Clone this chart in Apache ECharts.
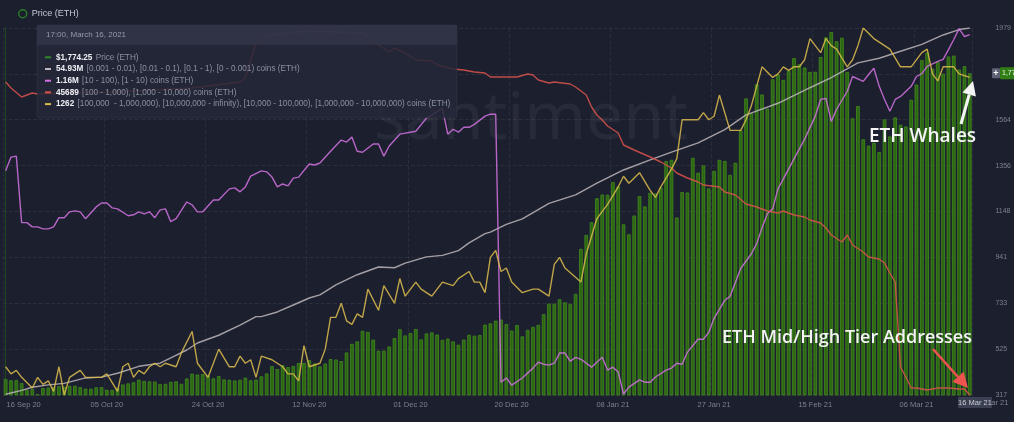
<!DOCTYPE html>
<html lang="en">
<head>
<meta charset="UTF-8">
<title>ETH holders vs price</title>
<script src="https://cdn.jsdelivr.net/npm/echarts@6/dist/echarts.min.js"></script>
<style>
  html, body { margin: 0; padding: 0; background: #1c1f2e; }
  #main { width: 1014px; height: 422px; }
</style>
</head>
<body>
<div id="main"></div>
<script>
// daily ETH price (USD), one bar per day from 16 Sep 2020 to 16 Mar 2021
var priceUsd = [
  389, 384, 385, 371, 341, 344, 321, 349, 351, 354, 357, 354, 359, 359,
  353, 346, 346, 352, 353, 341, 341, 350, 365, 370, 375, 387, 381, 379, 378, 366,
  368, 377, 379, 368, 392, 414, 410, 412, 406, 393, 403, 388, 386, 383, 386,
  396, 384, 387, 402, 415, 448, 435, 453, 444, 449, 462, 463, 475, 460, 447,
  460, 480, 478, 471, 510, 549, 560, 608, 603, 568, 518, 518, 537, 575, 615,
  587, 598, 616, 569, 596, 601, 591, 567, 573, 560, 545, 568, 590, 586, 589,
  636, 642, 654, 659, 638, 609, 634, 583, 612, 626, 635, 683, 731, 731, 751, 737,
  730, 775, 979, 1042, 1100, 1208, 1225, 1224, 1281, 1262, 1090, 1045, 1130, 1218, 1171,
  1233, 1230, 1257, 1377, 1382, 1121, 1236, 1234, 1391, 1324, 1357, 1253, 1332, 1382, 1377, 1314,
  1369, 1515, 1660, 1593, 1724, 1678, 1614, 1747, 1768, 1744, 1785, 1843, 1815, 1800,
  1780, 1781, 1848, 1937, 1960, 1919, 1935, 1780, 1570, 1626, 1475, 1446, 1459, 1417,
  1565, 1488, 1574, 1541, 1533, 1654, 1723, 1834, 1868, 1795, 1826, 1772, 1850, 1854, 1791, 1806,
  1774.25
];

// holder counts as [day index, value]
// [0 - 1) coins, millions
var smallHolders = [
  [0, 50.21], [3, 50.26], [5, 50.30], [8, 50.33], [11, 50.35], [15, 50.42], [18, 50.43], [21, 50.48],
  [25, 50.57], [29, 50.61], [31, 50.68], [34, 50.78], [36, 50.87], [40, 50.97], [44, 51.10], [47, 51.21],
  [48, 51.21], [51, 51.27], [54, 51.36], [57, 51.45], [59, 51.49], [62, 51.62], [66, 51.75], [70, 51.85],
  [73, 51.84], [75, 51.90], [79, 51.98], [82, 52.00], [85, 52.06], [87, 52.16], [90, 52.28], [91, 52.30],
  [94, 52.40], [97, 52.47], [102, 52.67], [107, 52.78], [111, 52.93], [116, 53.10], [121, 53.23], [125, 53.33],
  [130, 53.45], [135, 53.62], [139, 53.81], [145, 53.96], [151, 54.16], [155, 54.29], [160, 54.48], [164, 54.54],
  [168, 54.63], [172, 54.72], [176, 54.84], [179, 54.91], [181, 54.93]
];
// [1 - 100) coins, millions
var midHolders = [
  [0, 1.1184], [1, 1.1226], [2, 1.1229], [3, 1.1026], [4, 1.1026], [5, 1.1013], [6, 1.1013], [7, 1.1007],
  [8, 1.1007], [9, 1.1013], [10, 1.1041], [11, 1.1041], [12, 1.1059], [13, 1.1062], [14, 1.1059], [15, 1.1038],
  [17, 1.1074], [18, 1.1086], [19, 1.1086], [20, 1.1071], [21, 1.1068], [23, 1.1047], [24, 1.1050], [25, 1.1059],
  [26, 1.1053], [27, 1.1059], [28, 1.1041], [29, 1.1065], [30, 1.1068], [31, 1.1029], [32, 1.1038], [34, 1.1089],
  [35, 1.1080], [36, 1.1059], [37, 1.1059], [39, 1.1095], [40, 1.1095], [42, 1.1129], [43, 1.1132], [44, 1.1120],
  [45, 1.1135], [46, 1.1168], [48, 1.1184], [49, 1.1181], [50, 1.1165], [51, 1.1135], [52, 1.1144], [53, 1.1138],
  [54, 1.1162], [55, 1.1165], [57, 1.1205], [58, 1.1202], [59, 1.1208], [61, 1.1244], [63, 1.1278], [64, 1.1272],
  [65, 1.1287], [66, 1.1244], [67, 1.1241], [69, 1.1266], [70, 1.1266], [71, 1.1229], [72, 1.1260], [74, 1.1296],
  [77, 1.1305], [79, 1.1345], [80, 1.1354], [82, 1.1375], [83, 1.1296], [84, 1.1311], [85, 1.1302], [86, 1.1317],
  [87, 1.1317], [88, 1.1326], [90, 1.1351], [91, 1.1357], [92, 1.1357], [93, 1.0539], [94, 1.0552], [95, 1.0530],
  [97, 1.0552], [99, 1.0582], [100, 1.0600], [101, 1.0594], [102, 1.0591], [103, 1.0597], [104, 1.0628], [105, 1.0628],
  [106, 1.0603], [107, 1.0615], [108, 1.0609], [110, 1.0585], [112, 1.0615], [113, 1.0576], [114, 1.0585], [115, 1.0570],
  [116, 1.0503], [117, 1.0524], [119, 1.0546], [120, 1.0539], [121, 1.0539], [122, 1.0555], [124, 1.0576], [125, 1.0582],
  [126, 1.0597], [127, 1.0594], [128, 1.0631], [130, 1.0670], [131, 1.0670], [132, 1.0691], [133, 1.0734], [135, 1.0789],
  [136, 1.0801], [137, 1.0843], [138, 1.0886], [140, 1.0931], [141, 1.0962], [142, 1.1010], [143, 1.1053], [144, 1.1068],
  [145, 1.1129], [147, 1.1190], [150, 1.1281], [152, 1.1351], [153, 1.1402], [154, 1.1405], [155, 1.1335], [156, 1.1372],
  [158, 1.1427], [159, 1.1472], [161, 1.1457], [162, 1.1478], [163, 1.1497], [164, 1.1442], [165, 1.1402], [166, 1.1366],
  [167, 1.1402], [168, 1.1411], [170, 1.1442], [171, 1.1472], [172, 1.1481], [173, 1.1503], [175, 1.1518], [176, 1.1524],
  [177, 1.1554], [178, 1.1585], [179, 1.1618], [180, 1.1594], [181, 1.1600]
];
// [100 - 10,000) coins
var tierHolders = [
  [0, 48193], [1, 48145], [3, 48073], [4, 48089], [5, 48105], [6, 48097], [20, 48113], [35, 48145],
  [44, 48193], [45, 48225], [47, 48505], [49, 48569], [55, 48593], [61, 48593], [67, 48585], [70, 48489],
  [72, 48433], [73, 48465], [75, 48425], [77, 48369], [80, 48361], [81, 48329], [84, 48297], [86, 48289],
  [88, 48273], [90, 48265], [91, 48233], [95, 48233], [96, 48233], [98, 48257], [99, 48249], [100, 48209],
  [102, 48185], [103, 48193], [106, 48177], [107, 48153], [109, 48089], [110, 47993], [111, 47929], [112, 47889],
  [113, 47841], [115, 47785], [116, 47689], [118, 47649], [121, 47593], [123, 47553], [125, 47505], [126, 47465],
  [128, 47425], [130, 47393], [131, 47369], [134, 47353], [135, 47313], [137, 47289], [139, 47217], [141, 47193],
  [143, 47161], [145, 47145], [146, 47161], [148, 47129], [150, 47113], [151, 47089], [153, 47065], [154, 47025],
  [155, 46969], [157, 46913], [158, 46969], [159, 46889], [161, 46833], [162, 46793], [164, 46777], [165, 46745],
  [166, 46665], [167, 46593], [168, 45913], [169, 45833], [170, 45745], [171, 45745], [173, 45729], [175, 45745],
  [177, 45745], [179, 45737], [180, 45737], [181, 45689]
];
// 10,000+ coins (whales)
var whales = [
  [0, 1180], [1, 1178], [2, 1179], [3, 1177], [5, 1174], [6, 1177], [7, 1175], [8, 1176], [9, 1173], [10, 1180],
  [11, 1172], [12, 1177], [14, 1179], [15, 1177], [16, 1177], [18, 1177], [19, 1178], [21, 1173], [22, 1180], [23, 1181],
  [24, 1177], [25, 1179], [26, 1178], [27, 1180], [28, 1181], [29, 1180], [30, 1181], [32, 1180], [33, 1184], [35, 1190],
  [36, 1181], [38, 1177], [40, 1185], [42, 1180], [43, 1180], [44, 1183], [45, 1181], [46, 1182], [47, 1177], [48, 1183],
  [50, 1182], [52, 1180], [53, 1178], [54, 1178], [55, 1176], [56, 1186], [57, 1180], [59, 1181], [60, 1185], [61, 1194],
  [62, 1194], [63, 1198], [64, 1193], [65, 1192], [66, 1195], [67, 1194], [68, 1202], [70, 1196], [71, 1203], [73, 1198],
  [74, 1205], [75, 1200], [77, 1204], [78, 1202], [80, 1200], [82, 1204], [84, 1203], [85, 1205], [87, 1207], [88, 1204],
  [89, 1204], [90, 1201], [91, 1211], [92, 1213], [93, 1207], [94, 1208], [95, 1204], [97, 1201], [99, 1202], [100, 1202],
  [102, 1200], [103, 1209], [104, 1211], [105, 1208], [108, 1204], [109, 1212], [110, 1217], [111, 1222], [113, 1226], [115, 1231],
  [116, 1234], [117, 1232], [119, 1235], [121, 1230], [122, 1228], [123, 1231], [125, 1236], [126, 1239], [127, 1250], [129, 1250],
  [130, 1250], [131, 1252], [132, 1250], [133, 1251], [134, 1257], [136, 1247], [138, 1247], [139, 1250], [140, 1254], [142, 1265],
  [144, 1262], [145, 1263], [146, 1265], [147, 1264], [148, 1265], [149, 1265], [150, 1267], [151, 1273], [153, 1269], [154, 1273],
  [155, 1271], [156, 1270], [158, 1265], [159, 1267], [160, 1271], [161, 1276], [163, 1273], [164, 1272], [166, 1270], [168, 1265],
  [170, 1265], [172, 1269], [173, 1270], [174, 1263], [175, 1261], [176, 1265], [178, 1265], [179, 1263], [181, 1262]
];

var tickStep = 19;           // one date label every 19 days
var tipTime = '17:00, March 16, 2021';
var monthNames = ['Jan', 'Feb', 'Mar', 'Apr', 'May', 'Jun', 'Jul', 'Aug', 'Sep', 'Oct', 'Nov', 'Dec'];

var bg = '#1c1f2e';
var labelColor = '#7c8190';
var colPrice = '#2e8a2a', colSmall = '#bdb6ba', colMid = '#d272e2', colTier = '#dc534c', colWhale = '#dcbc4c';

function pad2(n) { return n < 10 ? '0' + n : '' + n; }
var startDay = Date.UTC(2020, 8, 16);
var days = priceUsd.map(function (p, i) {
    var d = new Date(startDay + i * 86400000);
    return pad2(d.getUTCDate()) + ' ' + monthNames[d.getUTCMonth()] + ' ' + String(d.getUTCFullYear()).slice(2);
});
function last(a) { var v = a[a.length - 1]; return Array.isArray(v) ? v[1] : v; }
function showTick(i) { return i % tickStep === 0; }

var lastPrice = last(priceUsd);
var tipRows = [
    [colPrice, '$' + lastPrice.toLocaleString('en-US', {minimumFractionDigits: 2}), 'Price (ETH)'],
    [colSmall, last(smallHolders).toFixed(2) + 'M', '[0.001 - 0.01), [0.01 - 0.1), [0.1 - 1), [0 - 0.001) coins (ETH)'],
    [colMid, last(midHolders).toFixed(2) + 'M', '[10 - 100), [1 - 10) coins (ETH)'],
    [colTier, String(last(tierHolders)), '[100 - 1,000), [1,000 - 10,000) coins (ETH)'],
    [colWhale, String(last(whales)), '[100,000  - 1,000,000), [10,000,000 - infinity), [10,000 - 100,000), [1,000,000 - 10,000,000) coins (ETH)']
];

var font = '"Liberation Sans", Arial, sans-serif';
var graphics = [
    // watermark
    { type: 'text', z: 1, silent: true, x: 374, y: 120,
      style: { text: 'santiment', fill: 'rgba(255,255,255,0.05)', font: '66px "Noto Sans", sans-serif', verticalAlign: 'middle' } },
    // tooltip panel
    { type: 'rect', z: 50, shape: { x: 37, y: 25, width: 420, height: 93, r: 2 },
      style: { fill: 'rgba(36,40,57,0.86)', stroke: 'rgba(255,255,255,0.05)' } },
    { type: 'rect', z: 50, shape: { x: 37, y: 25, width: 420, height: 20 },
      style: { fill: 'rgba(52,57,76,0.7)' } },
    { type: 'text', z: 51, x: 46, y: 35,
      style: { text: tipTime, fill: '#959bab', font: '8px ' + font, verticalAlign: 'middle' } },
    // annotations
    { type: 'text', z: 60, x: 869, y: 137,
      style: { text: 'ETH Whales', fill: '#f4f4f4', font: '600 19px "Open Sans", sans-serif', verticalAlign: 'middle' } },
    { type: 'line', z: 60, shape: { x1: 961, y1: 124, x2: 969.2, y2: 94.5 },
      style: { stroke: '#f4f4f4', lineWidth: 3 } },
    { type: 'polygon', z: 60, shape: { points: [[973, 81], [975.9, 96.4], [962.5, 92.6]] },
      style: { fill: '#f4f4f4' } },
    { type: 'text', z: 60, x: 722, y: 338,
      style: { text: 'ETH Mid/High Tier Addresses', fill: '#f4f4f4', font: '600 18px "Open Sans", sans-serif', verticalAlign: 'middle' } },
    { type: 'line', z: 60, shape: { x1: 933, y1: 349, x2: 958, y2: 377 },
      style: { stroke: '#ef5350', lineWidth: 2.5 } },
    { type: 'polygon', z: 60, shape: { points: [[968, 388], [952.4, 381.8], [963.6, 371.8]] },
      style: { fill: '#ef5350' } },
    // current date box on the time axis
    { type: 'text', z: 55, x: 985, y: 402.5,
      style: { text: 'Mar 21', fill: labelColor, font: '7.5px ' + font, verticalAlign: 'middle' } },
    { type: 'rect', z: 56, shape: { x: 958, y: 397, width: 34, height: 11, r: 1 }, style: { fill: '#3b4152' } },
    { type: 'text', z: 57, x: 975, y: 402.5,
      style: { text: days[days.length - 1], fill: '#c9cdd6', font: '7.5px ' + font, align: 'center', verticalAlign: 'middle' } }
];
tipRows.forEach(function (r, i) {
    var y = 57.3 + i * 11.7;
    graphics.push({ type: 'rect', z: 51, shape: { x: 45, y: y - 1, width: 6, height: 2 }, style: { fill: r[0] } });
    graphics.push({ type: 'text', z: 51, x: 56, y: y,
        style: {
            text: '{v|' + r[1] + '} {d|' + r[2] + '}',
            verticalAlign: 'middle',
            rich: {
                v: { fill: '#eef0f4', fontWeight: 'bold', fontSize: 8.2, fontFamily: font },
                d: { fill: '#8b91a0', fontSize: 8.2, fontFamily: font }
            }
        } });
});

function holderLine(name, data, axis, color) {
    return {
        name: name, type: 'line', xAxisIndex: 1, yAxisIndex: axis, data: data,
        symbol: 'none', z: 3, silent: true,
        lineStyle: { color: color, width: 1.4, opacity: 0.85 }
    };
}
function hiddenAxis(min, max) {
    return { type: 'value', show: false, min: min, max: max, splitLine: { show: false } };
}

var chart = echarts.init(document.getElementById('main'));
chart.setOption({
    backgroundColor: bg,
    animation: false,
    grid: { left: 3, right: 36, top: 28, bottom: 27 },
    legend: {
        left: 13, top: 4, itemWidth: 8, itemHeight: 8, itemGap: 6,
        textStyle: { color: '#c5c9d3', fontSize: 9, fontFamily: font },
        data: [{ name: 'Price (ETH)', icon: 'circle',
                 itemStyle: { color: 'transparent', borderColor: '#2a7a28', borderWidth: 1.5 } }]
    },
    xAxis: [{
        type: 'category', data: days, boundaryGap: true,
        axisLine: { show: false }, axisTick: { show: false },
        axisLabel: {
            interval: function (i) { return showTick(i); },
            color: labelColor, fontSize: 7.5, fontFamily: font, margin: 6,
            formatter: function (v, i) { return i === 0 ? '{f|' + v + '}' : v; },
            rich: { f: { padding: [0, 0, 0, 36], color: labelColor, fontSize: 7.5, fontFamily: font } }
        },
        splitLine: { show: true, interval: function (i) { return showTick(i); },
                     lineStyle: { color: 'rgba(255,255,255,0.06)', type: 'dashed' } }
    }, {
        type: 'value', show: false, min: -0.5, max: priceUsd.length - 0.5
    }],
    yAxis: [{
        type: 'value', position: 'right', offset: 18,
        min: 317.45, max: 1979.05, interval: 207.7,
        axisLine: { show: true, lineStyle: { color: '#1f4a1f' } },
        axisTick: { show: false },
        axisLabel: { color: labelColor, fontSize: 7, fontFamily: font, margin: 5,
                     formatter: function (v) { return Math.round(v); } },
        splitLine: { lineStyle: { color: 'rgba(255,255,255,0.07)', type: 'dashed' } }
    },
        hiddenAxis(50.2, 54.93),
        hiddenAxis(1.05, 1.162),
        hiddenAxis(45689, 48625),
        hiddenAxis(1172, 1276)
    ],
    series: [{
        name: 'Price (ETH)', type: 'bar', data: priceUsd, barWidth: 3.6, z: 2, silent: true,
        itemStyle: { color: '#2d6612', borderColor: '#418c1e', borderWidth: 0.8 }
    },
        holderLine('[0 - 1) coins', smallHolders, 1, colSmall),
        holderLine('[1 - 100) coins', midHolders, 2, colMid),
        holderLine('[100 - 10,000) coins', tierHolders, 3, colTier),
        holderLine('[10,000+) coins', whales, 4, colWhale)
    ],
    graphic: graphics
});

// current price tag on the right axis, placed through the price scale
var tagY = chart.convertToPixel({ yAxisIndex: 0 }, lastPrice);
chart.setOption({
    graphic: graphics.concat([
        { type: 'rect', z: 56, shape: { x: 992, y: tagY - 5, width: 8, height: 10, r: 1 }, style: { fill: '#5c6273' } },
        { type: 'text', z: 57, x: 996, y: tagY,
          style: { text: '+', fill: '#ffffff', font: 'bold 9px ' + font, align: 'center', verticalAlign: 'middle' } },
        { type: 'rect', z: 56, shape: { x: 1000, y: tagY - 6, width: 20, height: 12, r: 1 }, style: { fill: '#2f7d14' } },
        { type: 'text', z: 57, x: 1002, y: tagY,
          style: { text: Math.round(lastPrice).toLocaleString('en-US'), fill: '#eaf6e4', font: '7px ' + font, verticalAlign: 'middle' } }
    ])
});
</script>
</body>
</html>
